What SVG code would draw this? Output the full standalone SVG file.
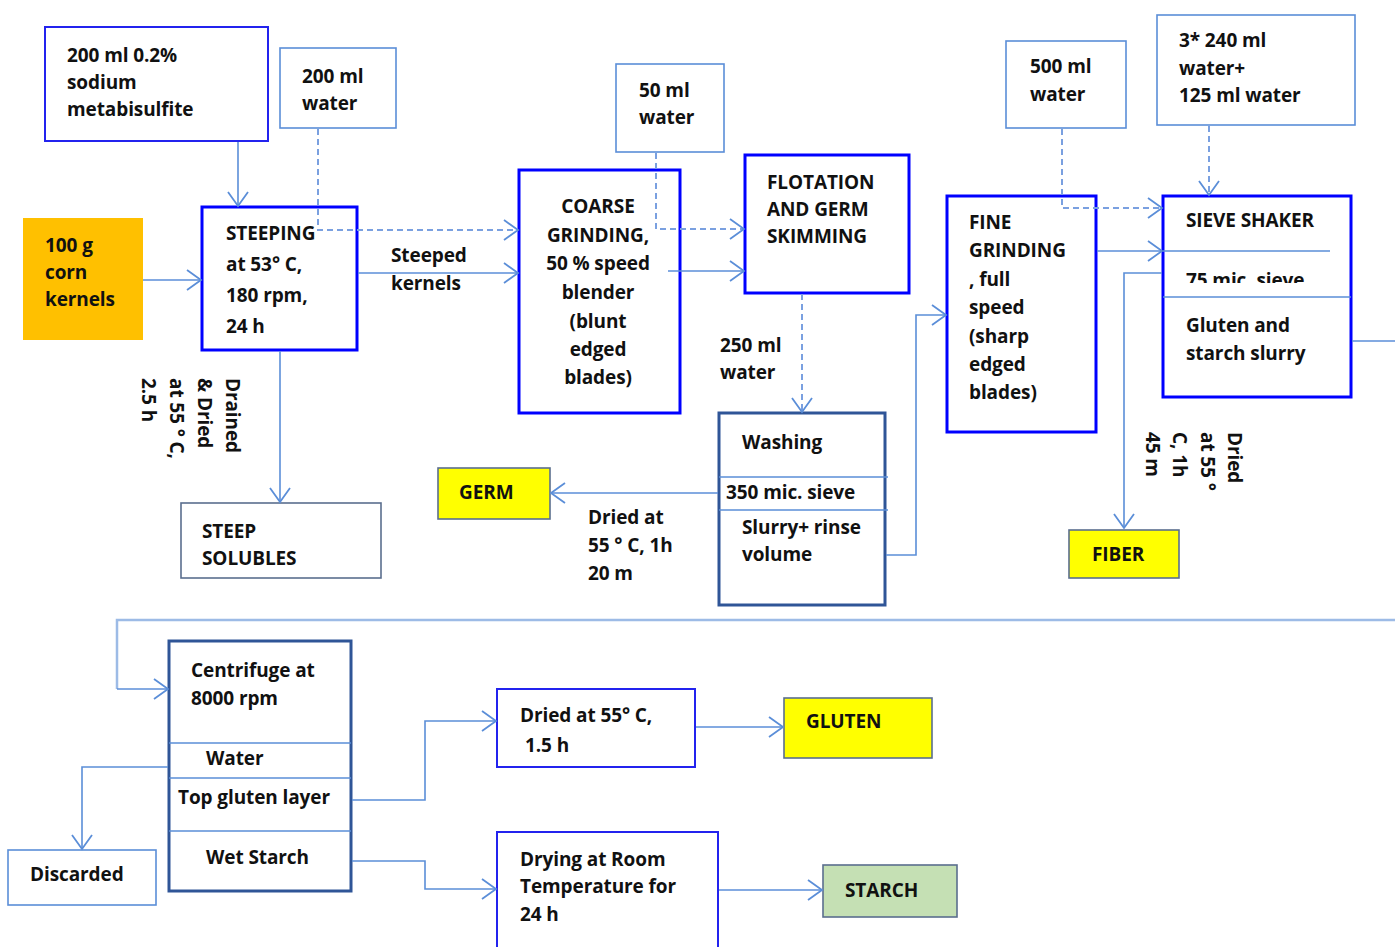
<svg xmlns="http://www.w3.org/2000/svg" width="1395" height="947" viewBox="0 0 1395 947">
<defs>
<style>
text{font-family:"Open Sans","Liberation Sans",sans-serif;font-size:19px;font-weight:700;fill:#111;letter-spacing:-0.1px}
.thick{fill:#fff;stroke:#0000ff;stroke-width:3}
.lite{fill:#fff;stroke:#5b8ed8;stroke-width:1.6}
.mid{fill:#fff;stroke:#2323ee;stroke-width:2}
.dark{fill:#fff;stroke:#2f5597;stroke-width:3}
.prod{stroke:#5a6e8e;stroke-width:1.6}
.div{stroke:#5b8ed8;stroke-width:1.6;fill:none}
.c{fill:none;stroke:#5b8ed8;stroke-width:1.6}
.d{fill:none;stroke:#7aa0e0;stroke-width:2;stroke-dasharray:6 4}
.ca{marker-end:url(#ah)}
</style>
<marker id="ah" markerUnits="userSpaceOnUse" viewBox="-16 -12 18 24" refX="0" refY="0" markerWidth="18" markerHeight="24" orient="auto">
<path d="M-14,-10 L0,0 L-14,10" fill="none" stroke="#5b8ed8" stroke-width="1.8"/>
</marker>
<clipPath id="clip75"><rect x="1165" y="253" width="180" height="30"/></clipPath>
</defs>

<g id="sodium">
<rect class="mid" x="45" y="27" width="223" height="114"/>
<text x="67" y="62">200 ml 0.2%</text>
<text x="67" y="89">sodium</text>
<text x="67" y="116">metabisulfite</text>
</g>
<g id="water200">
<rect class="lite" x="280" y="48" width="116" height="80"/>
<text x="302" y="83">200 ml</text>
<text x="302" y="110">water</text>
</g>
<g id="corn">
<rect x="23" y="218" width="120" height="122" fill="#ffc000"/>
<text x="45" y="252">100 g</text>
<text x="45" y="279">corn</text>
<text x="45" y="306">kernels</text>
</g>
<g id="steeping">
<rect class="thick" x="202" y="207" width="155" height="143"/>
<text x="226" y="240">STEEPING</text>
<text x="226" y="271">at 53° C,</text>
<text x="226" y="302">180 rpm,</text>
<text x="226" y="333">24 h</text>
</g>
<g id="steeped-label">
<text x="391" y="262">Steeped</text>
<text x="391" y="290">kernels</text>
</g>
<g id="drained-label">
<text transform="translate(226,378) rotate(90)"><tspan x="0" y="0">Drained</tspan><tspan x="0" y="28">&amp; Dried</tspan><tspan x="0" y="56">at 55 ° C,</tspan><tspan x="0" y="84">2.5 h</tspan></text>
</g>
<g id="steep-solubles">
<rect class="prod" fill="#fff" x="181" y="503" width="200" height="75"/>
<text x="202" y="538">STEEP</text>
<text x="202" y="565">SOLUBLES</text>
</g>
<g id="coarse">
<rect class="thick" x="519" y="170" width="161" height="243"/>
<g text-anchor="middle">
<text x="598" y="213">COARSE</text>
<text x="598" y="242">GRINDING,</text>
<text x="598" y="270">50 % speed</text>
<text x="598" y="299">blender</text>
<text x="598" y="328">(blunt</text>
<text x="598" y="356">edged</text>
<text x="598" y="384">blades)</text>
</g>
</g>
<g id="water50">
<rect class="lite" x="616" y="64" width="108" height="88"/>
<text x="639" y="97">50 ml</text>
<text x="639" y="124">water</text>
</g>
<g id="flotation">
<rect class="thick" x="745" y="155" width="164" height="138"/>
<text x="767" y="189">FLOTATION</text>
<text x="767" y="216">AND GERM</text>
<text x="767" y="243">SKIMMING</text>
</g>
<g id="water250-label">
<text x="720" y="352">250 ml</text>
<text x="720" y="379">water</text>
</g>
<g id="washing">
<rect class="dark" x="719" y="413" width="166" height="192"/>
<path class="div" d="M719,477 H888 M719,510 H888"/>
<text x="742" y="449">Washing</text>
<text x="726" y="499">350 mic. sieve</text>
<text x="742" y="534">Slurry+ rinse</text>
<text x="742" y="561">volume</text>
</g>
<g id="germ">
<rect class="prod" fill="#ffff00" x="438" y="468" width="112" height="51"/>
<text x="459" y="499">GERM</text>
</g>
<g id="germ-label">
<text x="588" y="524">Dried at</text>
<text x="588" y="552">55 ° C, 1h</text>
<text x="588" y="580">20 m</text>
</g>
<g id="fine">
<rect class="thick" x="947" y="196" width="149" height="236"/>
<text x="969" y="229">FINE</text>
<text x="969" y="257">GRINDING</text>
<text x="969" y="286">, full</text>
<text x="969" y="314">speed</text>
<text x="969" y="343">(sharp</text>
<text x="969" y="371">edged</text>
<text x="969" y="399">blades)</text>
</g>
<g id="water500">
<rect class="lite" x="1006" y="41" width="120" height="87"/>
<text x="1030" y="73">500 ml</text>
<text x="1030" y="101">water</text>
</g>
<g id="water3x240">
<rect class="lite" x="1157" y="15" width="198" height="110"/>
<text x="1179" y="47">3* 240 ml</text>
<text x="1179" y="75">water+</text>
<text x="1179" y="102">125 ml water</text>
</g>
<g id="sieve">
<rect class="thick" x="1163" y="196" width="188" height="201"/>
<path class="div" d="M1163,251 H1330 M1163,297 H1351"/>
<text x="1186" y="227">SIEVE SHAKER</text>
<text x="1186" y="287" clip-path="url(#clip75)">75 mic. sieve</text>
<text x="1186" y="332">Gluten and</text>
<text x="1186" y="360">starch slurry</text>
</g>
<g id="fiber">
<rect class="prod" fill="#ffff00" x="1069" y="530" width="110" height="48"/>
<text x="1092" y="561">FIBER</text>
</g>
<g id="fiber-label">
<text transform="translate(1228,432) rotate(90)"><tspan x="0" y="0">Dried</tspan><tspan x="0" y="27.5">at 55 °</tspan><tspan x="0" y="55">C, 1h</tspan><tspan x="0" y="82.5">45 m</tspan></text>
</g>
<g id="centrifuge">
<rect class="dark" x="169" y="641" width="182" height="250"/>
<path class="div" d="M169,743 H351 M169,778 H351 M169,831 H351"/>
<text x="191" y="677">Centrifuge at</text>
<text x="191" y="705">8000 rpm</text>
<text x="206" y="765">Water</text>
<text x="178" y="804">Top gluten layer</text>
<text x="206" y="864">Wet Starch</text>
</g>
<g id="discarded">
<rect class="lite" x="8" y="850" width="148" height="55"/>
<text x="30" y="881">Discarded</text>
</g>
<g id="dried-gluten">
<rect class="mid" x="497" y="689" width="198" height="78"/>
<text x="520" y="722">Dried at 55° C,</text>
<text x="525" y="752">1.5 h</text>
</g>
<g id="gluten">
<rect class="prod" fill="#ffff00" x="784" y="698" width="148" height="60"/>
<text x="806" y="728">GLUTEN</text>
</g>
<g id="drying-room">
<rect class="mid" x="497" y="832" width="221" height="120"/>
<text x="520" y="866">Drying at Room</text>
<text x="520" y="893">Temperature for</text>
<text x="520" y="921">24 h</text>
</g>
<g id="starch">
<rect class="prod" fill="#c5e0b4" x="823" y="865" width="134" height="52"/>
<text x="845" y="897">STARCH</text>
</g>

<g id="connectors">
<path class="c ca" d="M238,142 V206"/>
<path class="d ca" d="M318,129 V230 H518"/>
<path class="c ca" d="M143,280 H201"/>
<path class="c ca" d="M358,273 H518"/>
<path class="d ca" d="M656,153 V229 H744"/>
<path class="c ca" d="M668,271 H744"/>
<path class="d ca" d="M802,294 V412"/>
<path class="c ca" d="M718,493 H551"/>
<path class="c ca" d="M886,555 H916 V315 H946"/>
<path class="d ca" d="M1062,129 V208 H1162"/>
<path class="d ca" d="M1209,126 V195"/>
<path class="c ca" d="M1097,251 H1162"/>
<path class="c ca" d="M1162,273 H1124 V528"/>
<path class="c ca" d="M280,351 V502"/>
<path class="c" d="M1352,341 H1395"/>
<path fill="none" stroke="#9dbbe6" stroke-width="2.5" d="M1395,620 H117 V689"/>
<path class="c ca" d="M117,689 H168"/>
<path class="c ca" d="M168,767 H82 V849"/>
<path class="c ca" d="M352,800 H425 V721 H496"/>
<path class="c ca" d="M352,861 H425 V889 H496"/>
<path class="c ca" d="M696,727 H783"/>
<path class="c ca" d="M719,890 H822"/>
</g>
</svg>
